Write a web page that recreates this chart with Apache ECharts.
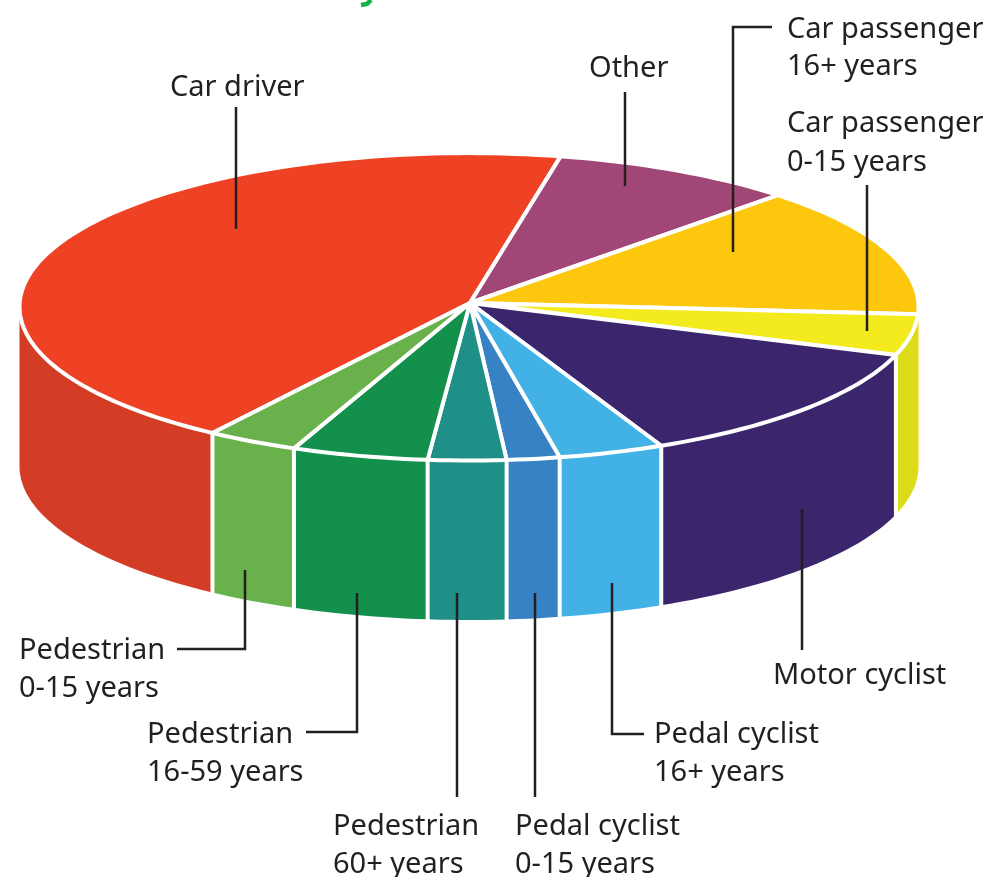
<!DOCTYPE html>
<html><head><meta charset="utf-8">
<style>html,body{margin:0;padding:0;background:#fff}#c{width:989px;height:877px}</style>
<script src="https://cdn.jsdelivr.net/npm/echarts@6/dist/echarts.min.js"></script>
</head><body><div id="c"></div>
<script>
// Data, clockwise from the Car driver slice (share of total, %)
const categories = ['Car driver','Other','Car passenger 16+ years','Car passenger 0-15 years','Motor cyclist','Pedal cyclist 16+ years','Pedal cyclist 0-15 years','Pedestrian 60+ years','Pedestrian 16-59 years','Pedestrian 0-15 years'];
const shares = [43.6, 8.8, 13.7, 4.3, 12.9, 3.8, 1.9, 2.8, 4.9, 3.3];
const topColors = ['#EF4123','#A14777','#FDC70D','#F4EB1F','#3B266E','#41B1E6','#3781C5','#1F9088','#12904C','#69B14A'];
const wallColors = ['#D33D25','#A14777','#FDC70D','#DDDC1A','#3B266E','#41B1E6','#3781C5','#1F9088','#12904C','#69B14A'];

// Disc projection
const disc = {cx:469, cy:306.8, rx:449.5, ry:153.7, depth:159.5, apexX:470, apexY:303, start:124.8};
const total = shares.reduce((a,b)=>a+b,0);
const startAngles = []; { let acc = disc.start; shares.forEach(v=>{startAngles.push(acc); acc += v/total*360;}); }
const pt = (deg,dy)=>{const r=deg*Math.PI/180; return [disc.cx+disc.rx*Math.cos(r), disc.cy+disc.ry*Math.sin(r)+(dy||0)];};
const arc = (a,b,dy)=>{const n=Math.max(2,Math.ceil((b-a)/1.5)),o=[]; for(let i=0;i<=n;i++)o.push(pt(a+(b-a)*i/n,dy)); return o;};

function renderTop(params, api){
  const i=params.dataIndex, a=startAngles[i], b=a+api.value(0)/total*360;
  return {type:'polygon', shape:{points:[[disc.apexX,disc.apexY]].concat(arc(a,b))},
    style:{fill:topColors[i], stroke:'#fff', lineWidth:4, lineJoin:'round'}};
}
function renderWall(params, api){
  const i=params.dataIndex, a=startAngles[i], b=a+api.value(0)/total*360, kids=[];
  [[0,180],[360,540]].forEach(w=>{
    const s=Math.max(a,w[0]), e=Math.min(b,w[1]);
    if(e<=s) return;
    kids.push({type:'polygon', shape:{points:arc(s,e,0).concat(arc(s,e,disc.depth).reverse())}, style:{fill:wallColors[i]}});
  });
  const m=(b%360);
  if(m>5 && m<180) kids.push({type:'line', z2:5, shape:{x1:pt(m)[0],y1:pt(m)[1],x2:pt(m,disc.depth)[0],y2:pt(m,disc.depth)[1]+2}, style:{stroke:'#fff',lineWidth:4}});
  return {type:'group', children:kids};
}

// Annotations
const font = '29px "Noto Sans"';
const ink = '#231F20';
const labels = [
  ['Car driver',170,88],['Other',589,69],
  ['Car passenger',787,30],['16+ years',787,67],
  ['Car passenger',787,124],['0-15 years',787,163],
  ['Motor cyclist',773,676],
  ['Pedal cyclist',654,735],['16+ years',654,773],
  ['Pedal cyclist',515,827],['0-15 years',515,865],
  ['Pedestrian',333,827],['60+ years',333,865],
  ['Pedestrian',147,735],['16-59 years',147,773],
  ['Pedestrian',19,651],['0-15 years',19,689]
];
const leaders = [
  [[236,107],[236,229]],
  [[625,92],[625,186]],
  [[772,27],[733,27],[733,252]],
  [[867,185],[867,331]],
  [[802,509],[802,650]],
  [[612,583],[612,734],[644,734]],
  [[535,593],[535,797]],
  [[457,593],[457,797]],
  [[357,593],[357,732],[306,732]],
  [[245,570],[245,649],[177,649]]
];
const graphic = [];
leaders.forEach(p=>graphic.push({type:'polyline',z:20,shape:{points:p},style:{fill:null,stroke:ink,lineWidth:2.5,lineJoin:'miter'}}));
labels.forEach(l=>graphic.push({type:'text',z:20,x:l[1],y:l[2],style:{text:l[0],font:font,fill:ink,textAlign:'left',textVerticalAlign:'middle'}}));
// Cropped title descender and a stray print fleck
graphic.push({type:'polyline',z:20,shape:{points:[[361,5],[367,4],[371,0]]},style:{fill:null,stroke:'#12B24A',lineWidth:4.5}});
graphic.push({type:'polygon',z:1,shape:{points:[[822,556],[827,553],[827,556]]},style:{fill:'#F4EB1F'}});

const chart = echarts.init(document.getElementById('c'),null,{renderer:'canvas'});
chart.setOption({
  animation:false, backgroundColor:'#fff',
  graphic:graphic,
  series:[
    {type:'custom',name:'walls',coordinateSystem:'none',z:2,silent:true,renderItem:renderWall,
      data:shares.map((v,i)=>({name:categories[i],value:[v]}))},
    {type:'custom',name:'tops',coordinateSystem:'none',z:3,silent:true,renderItem:renderTop,
      data:shares.map((v,i)=>({name:categories[i],value:[v]}))}
  ]
});
</script></body></html>
